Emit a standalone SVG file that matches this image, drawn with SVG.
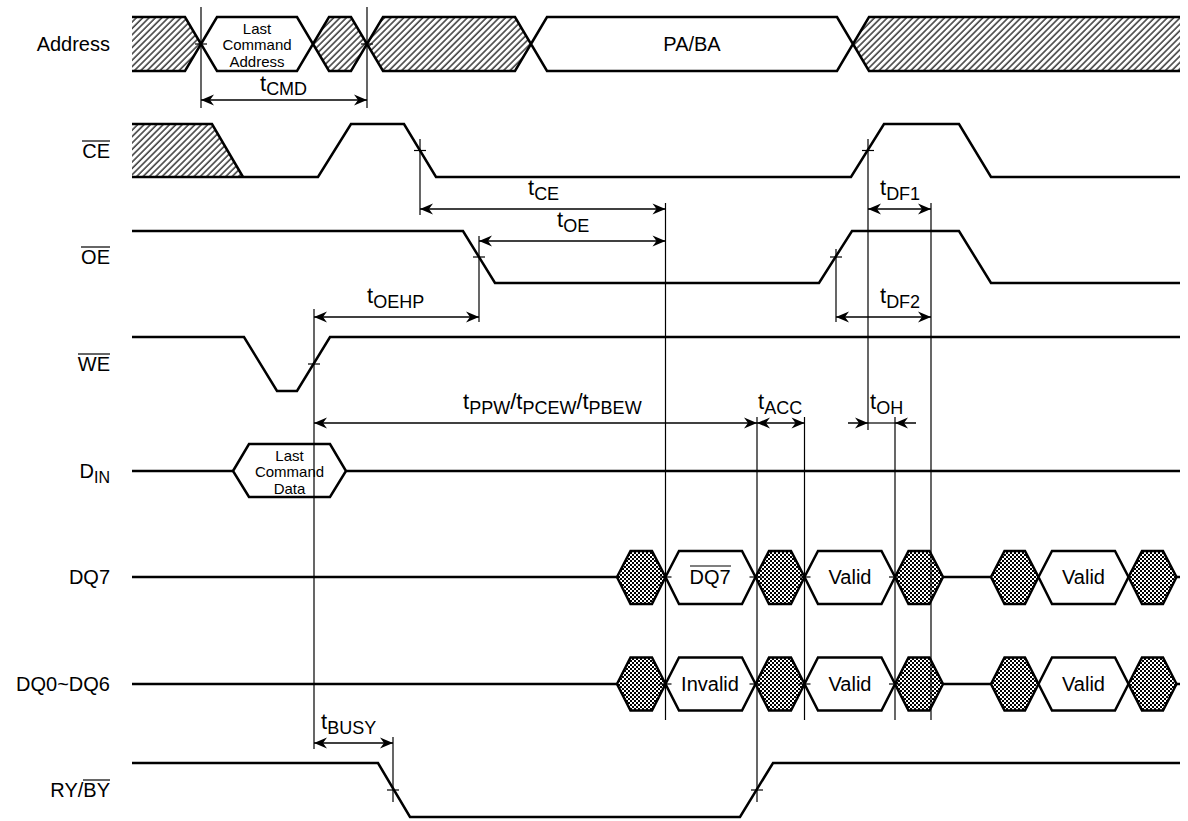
<svg xmlns="http://www.w3.org/2000/svg" width="1188" height="821" viewBox="0 0 1188 821">
<defs>
<pattern id="hatch" patternUnits="userSpaceOnUse" width="4.5" height="4.5" patternTransform="rotate(45)">
<rect width="4.5" height="4.5" fill="#fff"/>
<line x1="1" y1="0" x2="1" y2="4.5" stroke="#444" stroke-width="1.6"/>
</pattern>
<pattern id="chk" patternUnits="userSpaceOnUse" width="4" height="4">
<rect width="4" height="4" fill="#000"/>
<rect width="2" height="2" fill="#fff"/>
<rect x="2" y="2" width="2" height="2" fill="#fff"/>
</pattern>
<marker id="ah" viewBox="-14 -6 15 12" refX="0" refY="0" markerWidth="15" markerHeight="12" markerUnits="userSpaceOnUse" orient="auto-start-reverse">
<path d="M0,0 L-13,-5.5 L-9,0 L-13,5.5 Z" fill="#000"/>
</marker>
<style>
.sig{fill:none;stroke:#000;stroke-width:2.5;stroke-linejoin:miter}
.hex{fill:#fff;stroke:#000;stroke-width:2.5}
.hat{fill:url(#hatch);stroke:#000;stroke-width:2.5}
.chk{fill:url(#chk);stroke:#000;stroke-width:2.5}
.tm{stroke:#000;stroke-width:1.2;fill:none}
.arr{stroke:#000;stroke-width:1.5;marker-start:url(#ah);marker-end:url(#ah)}
.arr1{stroke:#000;stroke-width:1.5;marker-end:url(#ah)}
text{font-family:"Liberation Sans",Arial,sans-serif;fill:#000}
.lbl{font-size:20px;text-anchor:end}
.hx{font-size:20px;text-anchor:middle}
.sm{font-size:15px;text-anchor:middle}
.t{font-size:22px}
.sub{font-size:18px}
</style>
</defs>
<rect width="1188" height="821" fill="#fff"/>

<g id="address">
<text class="lbl" x="110" y="51">Address</text>
<polygon points="132,17 185,17 201,44 185,71 132,71" fill="url(#hatch)"/>
<polyline class="sig" points="132,17 185,17 201,44 185,71 132,71"/>
<polygon class="hex" points="201,44 217,17 297,17 313,44 297,71 217,71"/>
<text class="sm" x="257" y="33.5">Last</text>
<text class="sm" x="257" y="50">Command</text>
<text class="sm" x="257" y="66.5">Address</text>
<polygon class="hat" points="313,44 329,17 351,17 367,44 351,71 329,71"/>
<polygon class="hat" points="367,44 383,17 515,17 531,44 515,71 383,71"/>
<polygon class="hex" points="531,44 547,17 837,17 853,44 837,71 547,71"/>
<text class="hx" x="692" y="51">PA/BA</text>
<polygon points="853,44 869,17 1180,17 1180,71 869,71" fill="url(#hatch)"/>
<polyline class="sig" points="1180,17 869,17 853,44 869,71 1180,71"/>
</g>

<g id="ce">
<text class="lbl" x="110" y="158">CE</text>
<line class="tm" x1="82" y1="141" x2="110" y2="141"/>
<polygon points="132,124 212,124 243,177 132,177" fill="url(#hatch)"/>
<polyline class="sig" points="132,124 212,124 243,177"/>
<polyline class="sig" points="132,177 318,177 351,124 404,124 436,177 851,177 884,124 959,124 991,177 1180,177"/>
</g>

<g id="oe">
<text class="lbl" x="110" y="264">OE</text>
<line class="tm" x1="81" y1="247" x2="110" y2="247"/>
<polyline class="sig" points="132,231 463,231 495,283 819,283 852,231 959,231 991,283 1180,283"/>
</g>

<g id="we">
<text class="lbl" x="110" y="371">WE</text>
<line class="tm" x1="78" y1="354" x2="110" y2="354"/>
<polyline class="sig" points="132,337 244,337 277,391 297,391 330,337 1180,337"/>
</g>

<g id="din">
<text class="lbl" x="110" y="478">D<tspan font-size="16" dy="5">IN</tspan></text>
<line class="sig" x1="132" y1="471" x2="233" y2="471"/>
<line class="sig" x1="346" y1="471" x2="1180" y2="471"/>
<polygon class="hex" points="233,471 249,444 330,444 346,471 330,497 249,497"/>
<text class="sm" x="289.5" y="460.5">Last</text>
<text class="sm" x="289.5" y="477">Command</text>
<text class="sm" x="289.5" y="493.5">Data</text>
</g>

<g id="dq7">
<text class="lbl" x="110" y="584">DQ7</text>
<line class="sig" x1="132" y1="577" x2="617" y2="577"/>
<line class="sig" x1="943" y1="577" x2="991" y2="577"/>
<line class="sig" x1="1176.5" y1="577" x2="1180" y2="577"/>
<polygon class="chk" points="617,577 630.5,551 652,551 665.5,577 652,604 630.5,604"/>
<polygon class="hex" points="665.5,577 679,551 742,551 755.5,577 742,604 679,604"/>
<text class="hx" x="710" y="584">DQ7</text>
<line class="tm" x1="690" y1="566" x2="731" y2="566"/>
<polygon class="chk" points="755.5,577 769,551 791,551 804.5,577 791,604 769,604"/>
<polygon class="hex" points="804.5,577 818,551 881.5,551 895,577 881.5,604 818,604"/>
<text class="hx" x="850" y="584">Valid</text>
<polygon class="chk" points="895,577 908.5,551 929.5,551 943,577 929.5,604 908.5,604"/>
<polygon class="chk" points="991,577 1004.5,551 1025,551 1038.5,577 1025,604 1004.5,604"/>
<polygon class="hex" points="1038.5,577 1052,551 1115,551 1128.5,577 1115,604 1052,604"/>
<text class="hx" x="1083.5" y="584">Valid</text>
<polygon class="chk" points="1128.5,577 1142,551 1163,551 1176.5,577 1163,604 1142,604"/>
</g>

<g id="dq0-dq6">
<text class="lbl" x="110" y="691">DQ0~DQ6</text>
<line class="sig" x1="132" y1="684" x2="617" y2="684"/>
<line class="sig" x1="943" y1="684" x2="991" y2="684"/>
<line class="sig" x1="1176.5" y1="684" x2="1180" y2="684"/>
<polygon class="chk" points="617,684 630.5,657.5 652,657.5 665.5,684 652,710.5 630.5,710.5"/>
<polygon class="hex" points="665.5,684 679,657.5 742,657.5 755.5,684 742,710.5 679,710.5"/>
<text class="hx" x="710" y="691">Invalid</text>
<polygon class="chk" points="755.5,684 769,657.5 791,657.5 804.5,684 791,710.5 769,710.5"/>
<polygon class="hex" points="804.5,684 818,657.5 881.5,657.5 895,684 881.5,710.5 818,710.5"/>
<text class="hx" x="850" y="691">Valid</text>
<polygon class="chk" points="895,684 908.5,657.5 929.5,657.5 943,684 929.5,710.5 908.5,710.5"/>
<polygon class="chk" points="991,684 1004.5,657.5 1025,657.5 1038.5,684 1025,710.5 1004.5,710.5"/>
<polygon class="hex" points="1038.5,684 1052,657.5 1115,657.5 1128.5,684 1115,710.5 1052,710.5"/>
<text class="hx" x="1083.5" y="691">Valid</text>
<polygon class="chk" points="1128.5,684 1142,657.5 1163,657.5 1176.5,684 1163,710.5 1142,710.5"/>
</g>

<g id="ry-by">
<text class="lbl" x="110" y="797">RY/BY</text>
<line class="tm" x1="83" y1="780" x2="110" y2="780"/>
<polyline class="sig" points="132,763 378,763 410,817 740,817 773,763 1180,763"/>
</g>

<g id="connectors">
<line class="tm" x1="201" y1="7" x2="201" y2="108"/>
<line class="tm" x1="367" y1="7" x2="367" y2="108"/>
<line class="tm" x1="420" y1="139" x2="420" y2="215"/>
<line class="tm" x1="479" y1="236" x2="479" y2="322"/>
<line class="tm" x1="665.5" y1="203" x2="665.5" y2="720"/>
<line class="tm" x1="868" y1="139" x2="868" y2="430"/>
<line class="tm" x1="836" y1="249" x2="836" y2="322"/>
<line class="tm" x1="931" y1="203" x2="931" y2="720"/>
<line class="tm" x1="314" y1="309" x2="314" y2="749"/>
<line class="tm" x1="757" y1="417" x2="757" y2="802"/>
<line class="tm" x1="804.5" y1="417" x2="804.5" y2="720"/>
<line class="tm" x1="895" y1="417" x2="895" y2="720"/>
<line class="tm" x1="393" y1="737" x2="393" y2="802"/>

<line class="tm" x1="195" y1="44" x2="207" y2="44"/>
<line class="tm" x1="361" y1="44" x2="373" y2="44"/>
<line class="tm" x1="414" y1="150.5" x2="426" y2="150.5"/>
<line class="tm" x1="862" y1="150.5" x2="874" y2="150.5"/>
<line class="tm" x1="473" y1="257" x2="485" y2="257"/>
<line class="tm" x1="830" y1="257" x2="842" y2="257"/>
<line class="tm" x1="308" y1="364" x2="320" y2="364"/>
<line class="tm" x1="659.5" y1="577" x2="671.5" y2="577"/>
<line class="tm" x1="749.5" y1="577" x2="761.5" y2="577"/>
<line class="tm" x1="798.5" y1="577" x2="810.5" y2="577"/>
<line class="tm" x1="889" y1="577" x2="901" y2="577"/>
<line class="tm" x1="659.5" y1="684" x2="671.5" y2="684"/>
<line class="tm" x1="749.5" y1="684" x2="761.5" y2="684"/>
<line class="tm" x1="798.5" y1="684" x2="810.5" y2="684"/>
<line class="tm" x1="889" y1="684" x2="901" y2="684"/>
<line class="tm" x1="387" y1="790" x2="399" y2="790"/>
<line class="tm" x1="751" y1="790" x2="763" y2="790"/>

<line class="arr" x1="201" y1="100" x2="367" y2="100"/>
<line class="arr" x1="420" y1="209" x2="665.5" y2="209"/>
<line class="arr" x1="479" y1="241" x2="665.5" y2="241"/>
<line class="arr" x1="868" y1="209" x2="931" y2="209"/>
<line class="arr" x1="314" y1="317" x2="479" y2="317"/>
<line class="arr" x1="836" y1="317" x2="931" y2="317"/>
<line class="arr" x1="314" y1="423" x2="757" y2="423"/>
<line class="arr" x1="757" y1="423" x2="804.5" y2="423"/>
<line class="arr1" x1="848" y1="423" x2="868" y2="423"/>
<line class="tm" x1="868" y1="423" x2="895" y2="423"/>
<line class="arr1" x1="916" y1="423" x2="895" y2="423"/>
<line class="arr" x1="314" y1="743" x2="393" y2="743"/>

<text class="t" x="260" y="91">t<tspan class="sub" dy="4">CMD</tspan></text>
<text class="t" x="528" y="195">t<tspan class="sub" dy="5">CE</tspan></text>
<text class="t" x="557" y="227">t<tspan class="sub" dy="5">OE</tspan></text>
<text class="t" x="880" y="195">t<tspan class="sub" dy="5">DF1</tspan></text>
<text class="t" x="367" y="303">t<tspan class="sub" dy="5">OEHP</tspan></text>
<text class="t" x="880" y="303">t<tspan class="sub" dy="5">DF2</tspan></text>
<text class="t" x="463" y="409">t<tspan class="sub" dy="5">PPW</tspan><tspan dy="-5">/t</tspan><tspan class="sub" dy="5">PCEW</tspan><tspan dy="-5">/t</tspan><tspan class="sub" dy="5">PBEW</tspan></text>
<text class="t" x="758" y="409">t<tspan class="sub" dy="5">ACC</tspan></text>
<text class="t" x="870" y="409">t<tspan class="sub" dy="5">OH</tspan></text>
<text class="t" x="321" y="729">t<tspan class="sub" dy="5">BUSY</tspan></text>
</g>
</svg>
